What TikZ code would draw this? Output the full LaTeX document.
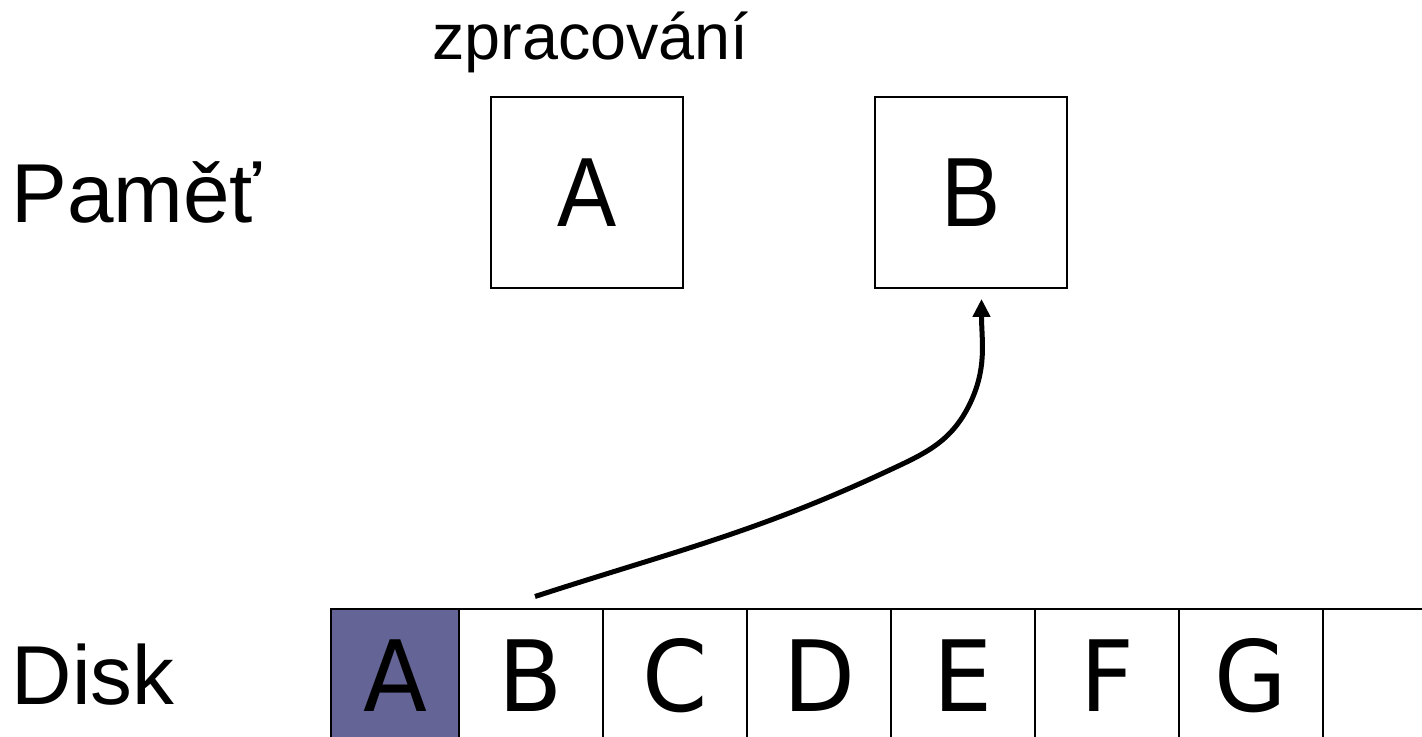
\documentclass[tikz,border=0pt]{standalone}
\usepackage{fontspec}
\setmainfont{Liberation Sans}
\newfontfamily\memfont[FakeStretch=0.9]{Liberation Sans}
\newfontfamily\cellfont[FakeStretch=0.95]{DejaVu Sans}
\usetikzlibrary{arrows.meta,positioning}
\definecolor{diskfill}{RGB}{100,100,150}

\def\xaxis{28.44}
\def\yaxis{14.72}
\def\cellw{2.88}
\def\cellh{2.68}

\begin{document}
\begin{tikzpicture}[
	membox/.style={draw=black, line width=1.1pt, minimum width=3.84cm, minimum height=3.82cm, inner sep=0pt, font=\memfont\fontsize{56}{60}\selectfont},
	cell/.style={draw=black, line width=1.1pt, minimum width=\cellw cm, minimum height=\cellh cm, inner sep=0pt, outer sep=0pt, font=\cellfont\fontsize{56}{60}\selectfont},
	rowlabel/.style={anchor=base west, inner sep=0pt, font=\fontsize{47.6}{50}\selectfont},
	link/.style={-{Triangle[width=0.34cm,length=0.36cm]}, line width=0.1cm},
	]

	%%% Frame
	\useasboundingbox (0,0) rectangle (\xaxis,\yaxis);

	%%% Memory
	\node[rowlabel] (lbl_mem) at (0.22,10.26) {Paměť};
	\node[membox] (mem_a) at (11.74,10.87) {A};
	\node[membox] (mem_b) at (19.42,10.87) {B};
	\node[anchor=base west, inner sep=0pt, font=\fontsize{36.8}{40}\selectfont] (lbl_proc) at (8.64,13.52) {zpracování};

	%%% Disk
	\node[rowlabel] (lbl_disk) at (0.23,0.64) {Disk};
	\node[cell, fill=diskfill, minimum width=2.56cm] (disk0) at (7.90,1.20) {A};
	\foreach \l [count=\i, remember=\i as \j (initially 0)] in {B,C,D,E,F,G,{}}
		\node[cell, right=0pt of disk\j] (disk\i) {\l};

	%%% Read B
	\coordinate (bend1) at (17.73,5.29);
	\coordinate (bend2) at (19.37,6.59);
	\draw[link] ([xshift=0.08cm,yshift=0.25cm]disk1.north) to[out=18,in=205] (bend1)
		to[out=25,in=243] (bend2) to[out=63,in=-90] ([xshift=0.21cm,yshift=-0.2cm]mem_b.south);

\end{tikzpicture}
\end{document}
